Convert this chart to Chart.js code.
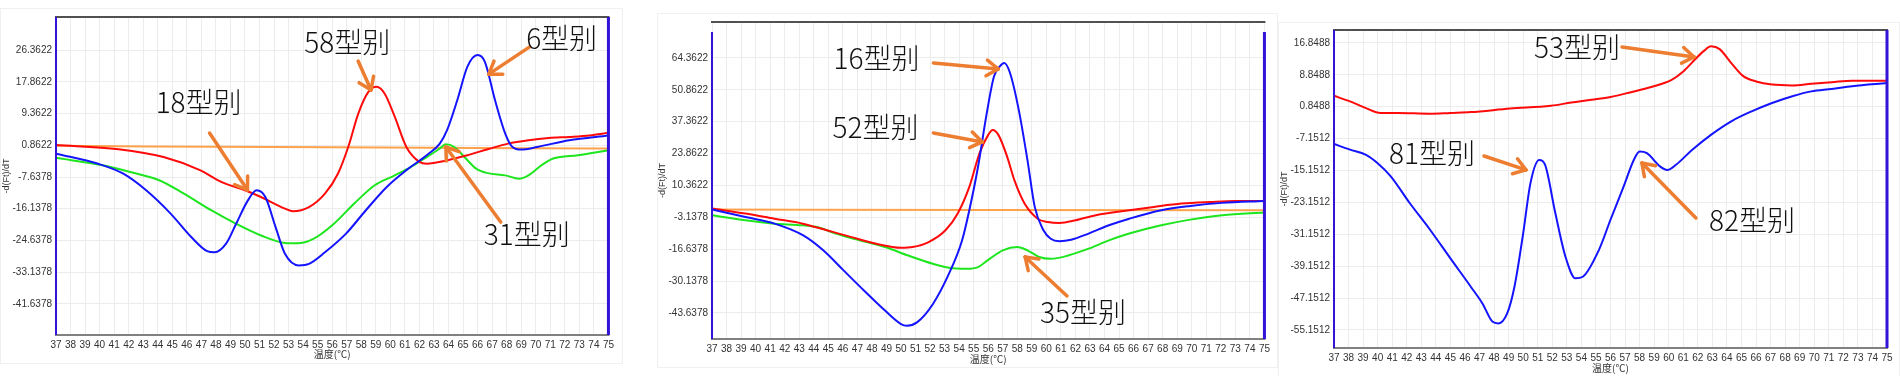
<!DOCTYPE html>
<html>
<head>
<meta charset="utf-8">
<script src="https://cdn.jsdelivr.net/npm/chart.js@4.4.1/dist/chart.umd.min.js"></script>
<style>
  html, body { margin: 0; padding: 0; background: #ffffff; }
  body { width: 1900px; height: 376px; position: relative; overflow: hidden; }
  .frame { position: absolute; border: 1px solid #f0f0f0; box-sizing: border-box; }
  canvas { position: absolute; top: 0; }
</style>
</head>
<body>
<div class="frame" style="left:0px;top:8px;width:623px;height:356px;"></div>
<div class="frame" style="left:657px;top:13px;width:621px;height:355px;"></div>
<div class="frame" style="left:1278px;top:22px;width:622px;height:360px;"></div>
<canvas id="c1" width="618" height="376" style="left:0px;"></canvas>
<canvas id="c2" width="618" height="376" style="left:656px;"></canvas>
<canvas id="c3" width="622" height="376" style="left:1278px;"></canvas>
<script>
// ---------------- shared axis data ----------------
const xTicks = [37,38,39,40,41,42,43,44,45,46,47,48,49,50,51,52,53,54,55,56,57,58,59,60,61,62,63,64,65,66,67,68,69,70,71,72,73,74,75];
const xTitle = '温度(℃)';
const yTitle = '-d(Ft)/dT';

// ---------------- panel 1 ----------------
const yTicks1 = [-41.6378, -33.1378, -24.6378, -16.1378, -7.6378, 0.8622, 9.3622, 17.8622, 26.3622];
const blue1T = [37, 39.9, 41.6, 43.2, 44.9, 46.3, 47.4, 47.9, 48.7, 49.4, 50.2, 50.8, 51.4, 52.1, 52.75, 53.7, 54.4, 55.5, 56.95, 58.3, 59.75, 61.1, 62.5, 63.4, 63.9, 64.6, 65.3, 66, 66.5, 67.2, 67.9, 68.4, 69, 70.1, 72.3, 75];
const blue1V = [-1.4, -4.1, -6.7, -11.2, -17.5, -23.7, -27.5, -27.8, -25.5, -20.1, -13.9, -11.2, -13.0, -21.0, -28.2, -31.3, -30.9, -27.8, -22.8, -16.6, -10.3, -5.8, -1.8, 1.3, 4.9, 12.9, 21.9, 25.0, 23.2, 12.9, 4.0, 0.4, -0.3, 0.4, 2.2, 3.5];
const red1T = [37, 41.3, 44.4, 46.9, 48.4, 50, 51.1, 52.75, 53.3, 54.4, 55.5, 56.4, 57.1, 57.8, 58.5, 59.05, 59.6, 60.3, 61.1, 62, 62.5, 63.9, 65.3, 66.7, 68.1, 69.5, 70.9, 72.3, 73.7, 75];
const red1V = [0.9, -0.2, -2.3, -5.8, -9.0, -11.2, -13.0, -16.1, -16.8, -15.7, -12.1, -6.7, 0.4, 9.4, 15.2, 16.5, 14.7, 8.5, 0.4, -3.6, -4.1, -3.2, -1.8, -0.2, 1.3, 2.2, 2.8, 3.1, 3.5, 4.2];
const green1T = [37, 40.2, 42.1, 44.1, 45.8, 47.7, 49.4, 51.1, 52.75, 53.6, 54.7, 56.1, 57.5, 58.9, 60.3, 61.4, 62.5, 63.4, 63.8, 64.4, 65.1, 65.9, 66.7, 67.9, 68.85, 69.5, 70.4, 71.2, 72.9, 75];
const green1V = [-2.5, -4.5, -6.3, -8.5, -12.1, -16.6, -20.2, -23.3, -25.3, -25.4, -24.2, -20.2, -14.8, -9.9, -7.2, -5.0, -2.3, 0.0, 1.1, 0.4, -2.3, -5.4, -6.6, -7.2, -8.1, -7.2, -4.5, -2.7, -1.8, -0.5];
const orange1T = [37, 56, 75];
const orange1V = [0.7, 0.3, 0.0];
const labels1 = ['58型别', '6型别', '18型别', '31型别'];

// ---------------- panel 2 ----------------
const yTicks2 = [-43.6378, -30.1378, -16.6378, -3.1378, 10.3622, 23.8622, 37.3622, 50.8622, 64.3622];
const blue2T = [37, 39.3, 41.3, 43.25, 44.65, 46.05, 47.45, 48.9, 50, 50.4, 51.1, 52.2, 53.3, 54.2, 54.7, 55.3, 55.9, 56.4, 56.8, 57.1, 57.5, 58.1, 58.7, 59.2, 59.8, 60.3, 60.9, 61.7, 62.9, 64.3, 65.7, 67.9, 69.9, 72.1, 75];
const blue2V = [0.2, -3.0, -5.8, -10.7, -17.1, -25.6, -34.1, -42.6, -48.3, -49.0, -47.6, -39.8, -27.0, -12.9, -0.1, 18.3, 41.0, 56.6, 60.8, 62.2, 58.0, 42.4, 21.1, 1.3, -8.6, -12.2, -13.2, -12.6, -10.0, -6.5, -3.7, -0.1, 1.7, 3.0, 3.8];
const red2T = [37, 39.3, 41.3, 43.25, 44.9, 46.6, 48.3, 50, 50.8, 51.9, 53.06, 53.9, 54.7, 55.4, 56, 56.3, 56.7, 57.3, 57.8, 58.5, 59.4, 60.1, 60.9, 62, 63.4, 65.7, 67.4, 69.3, 71.3, 73, 75];
const red2V = [0.6, -1.5, -3.7, -5.8, -8.6, -11.5, -14.3, -16.0, -15.7, -13.6, -8.6, -1.5, 9.8, 24.0, 31.8, 33.9, 31.8, 22.6, 12.6, 2.7, -3.7, -5.1, -5.5, -4.4, -2.2, -0.1, 1.3, 2.7, 3.4, 3.8, 3.8];
const green2T = [37, 39.3, 41.3, 43.25, 44.4, 45.5, 46.9, 48.9, 50.5, 52.2, 53.3, 54.5, 55.3, 56.1, 57, 58, 58.7, 59.5, 60.3, 61.5, 62.9, 64.3, 65.7, 67.9, 69.9, 72.1, 75];
const green2V = [-2.2, -4.4, -5.8, -6.5, -7.5, -10.0, -12.4, -15.7, -19.3, -22.8, -24.5, -24.9, -24.2, -20.7, -17.1, -15.7, -17.1, -19.9, -20.7, -19.3, -16.4, -12.9, -10.0, -6.5, -4.1, -2.2, -1.1];
const orange2T = [37, 56, 75];
const orange2V = [0.2, 0.0, -0.1];
const labels2 = ['16型别', '52型别', '35型别'];

// ---------------- panel 3 ----------------
const yTicks3 = [-55.1512, -47.1512, -39.1512, -31.1512, -23.1512, -15.1512, -7.1512, 0.8488, 8.8488, 16.8488];
const red3T = [37, 38.1, 39.2, 40.2, 41.4, 43.6, 45, 46.4, 49.1, 51.9, 53.3, 54.7, 56, 57.4, 58.8, 60.2, 61, 61.8, 62.4, 62.9, 63.5, 64.3, 65.1, 66, 67.1, 68.5, 69.8, 71.2, 72.6, 75];
const red3V = [3.6, 2.2, 0.5, -0.7, -0.7, -0.9, -0.7, -0.5, 0.4, 1.1, 1.9, 2.6, 3.3, 4.5, 5.8, 7.6, 9.7, 12.7, 14.8, 16.0, 15.3, 11.8, 8.6, 7.2, 6.4, 6.2, 6.6, 7.0, 7.4, 7.4];
const blue3T = [37, 38.1, 39.2, 40, 40.9, 42.2, 43.6, 45, 46.4, 47.2, 47.9, 48.3, 48.9, 49.4, 50, 50.5, 51.1, 51.5, 52.2, 52.9, 53.6, 54.1, 55.2, 56, 56.9, 57.6, 58, 58.5, 59.4, 59.9, 60.5, 61.6, 62.9, 64.3, 65.7, 67.1, 68.5, 69.8, 71.2, 72.6, 75];
const blue3V = [-8.5, -9.9, -11.2, -13.3, -16.6, -23.3, -30.0, -37.2, -44.3, -48.5, -53.1, -53.5, -51.0, -44.3, -30.9, -18.3, -12.5, -13.7, -25.7, -36.7, -42.2, -41.8, -35.1, -27.5, -19.2, -12.5, -10.4, -10.8, -14.1, -15.0, -13.7, -10.0, -6.2, -2.8, -0.3, 1.8, 3.5, 4.7, 5.3, 6.0, 6.8];
const labels3 = ['53型别', '81型别', '82型别'];

// ---------------- styles ----------------
const COLORS = { red: '#ff0a0a', blue: '#1414ff', green: '#1ee61e', orange: '#ffa24d', arrow: '#ed7d31' };
const TICK_FONT = { family: "'Liberation Sans', Arial, sans-serif", size: 10 };
const XTICK_FONT = { family: "'Liberation Sans Narrow', 'Arial Narrow', 'Liberation Sans', Arial, sans-serif", size: 10 };
const CJK = "'Noto Sans CJK SC', 'Noto Sans CJK JP', sans-serif";

function pts(t, v) { return t.map((x, i) => ({ x: x, y: v[i] })); }
function ds(t, v, color) {
  return { data: pts(t, v), borderColor: color, borderWidth: 2, pointRadius: 0, fill: false,
           cubicInterpolationMode: 'monotone' };
}

const decorPlugin = {
  id: 'decor',
  afterDatasetsDraw(chart, args, opts) {
    const { ctx, chartArea: a, scales } = chart;
    const xs = scales.x, ys = scales.y;
    const line = (x1, y1, x2, y2) => { ctx.beginPath(); ctx.moveTo(x1, y1); ctx.lineTo(x2, y2); ctx.stroke(); };
    ctx.save();
    // frame of the plot area
    ctx.lineWidth = 2; ctx.strokeStyle = '#505050';
    line(a.left - 1, a.top, a.right + 1, a.top);
    ctx.strokeStyle = '#808080';
    line(a.left - 1, a.bottom, a.right + 1, a.bottom);
    ctx.strokeStyle = '#3412d6';
    ctx.lineWidth = 2;
    line(a.left, a.top + (opts.inset || 0), a.left, a.bottom);
    ctx.lineWidth = 3;
    line(a.right, a.top + (opts.inset || 0), a.right, a.bottom);
    // arrows
    ctx.strokeStyle = COLORS.arrow; ctx.lineWidth = 3.5; ctx.lineCap = 'round'; ctx.lineJoin = 'round';
    (opts.arrows || []).forEach(ar => {
      const x1 = xs.getPixelForValue(ar[0]), y1 = ys.getPixelForValue(ar[1]);
      const x2 = xs.getPixelForValue(ar[2]), y2 = ys.getPixelForValue(ar[3]);
      line(x1, y1, x2, y2);
      const ang = Math.atan2(y2 - y1, x2 - x1), L = 14;
      [-1, 1].forEach(s => line(x2, y2, x2 - L * Math.cos(ang + s * 0.6), y2 - L * Math.sin(ang + s * 0.6)));
    });
    // labels
    ctx.fillStyle = '#111111';
    ctx.font = '300 28px ' + CJK;
    ctx.textAlign = 'center'; ctx.textBaseline = 'middle';
    (opts.labels || []).forEach(lb => {
      ctx.fillText(lb.text, xs.getPixelForValue(lb.t), ys.getPixelForValue(lb.v));
    });
    ctx.restore();
  }
};

function makePanel(id, cfg) {
  new Chart(document.getElementById(id), {
    type: 'line',
    data: { datasets: cfg.datasets },
    plugins: [decorPlugin],
    options: {
      responsive: false, animation: false, devicePixelRatio: 1,
      layout: { padding: { top: cfg.padTop, right: cfg.padRight, bottom: 0, left: 0 } },
      plugins: { legend: { display: false }, tooltip: { enabled: false },
                 decor: { inset: cfg.inset, arrows: cfg.arrows, labels: cfg.labels } },
      scales: {
        x: {
          type: 'linear', min: 37, max: 75,
          afterBuildTicks: s => { s.ticks = xTicks.map(v => ({ value: v })); },
          afterFit: s => { s.height = cfg.xH; },
          grid: { color: '#ececec', lineWidth: 1, drawTicks: false },
          border: { display: false },
          ticks: { autoSkip: false, maxRotation: 0, minRotation: 0, padding: 4, color: '#333333', font: XTICK_FONT,
                   callback: v => String(v) },
          title: { display: true, text: xTitle, color: '#333333', font: { family: CJK, size: 10 },
                   padding: { top: 0, bottom: cfg.xTitlePad } }
        },
        y: {
          type: 'linear', min: cfg.yMin, max: cfg.yMax,
          afterBuildTicks: s => { s.ticks = cfg.yTicks.map(v => ({ value: v })); },
          afterFit: s => { s.width = 56; },
          grid: { color: '#ececec', lineWidth: 1, drawTicks: false },
          border: { display: false },
          ticks: { autoSkip: false, padding: 4, color: '#333333', font: TICK_FONT,
                   callback: v => Number(v).toFixed(4) },
          title: { display: true, text: yTitle, color: '#333333', font: { family: "'Liberation Sans', Arial, sans-serif", size: 9 },
                   padding: { top: 1, bottom: 0 } }
        }
      }
    }
  });
}

makePanel('c1', {
  padTop: 17, padRight: 8, xH: 41, xTitlePad: 16, inset: 0,
  yMin: -49.94, yMax: 35.2, yTicks: yTicks1,
  datasets: [ds(blue1T, blue1V, COLORS.blue), ds(red1T, red1V, COLORS.red),
             ds(green1T, green1V, COLORS.green), ds(orange1T, orange1V, COLORS.orange)],
  labels: [{ text: labels1[0], t: 57.03, v: 28.5 }, { text: labels1[1], t: 71.78, v: 29.6 },
           { text: labels1[2], t: 46.81, v: 12.4 }, { text: labels1[3], t: 69.38, v: -22.9 }],
  arrows: [[57.78, 23.4, 58.67, 15.65], [69.58, 27.2, 66.77, 19.9],
           [47.56, 4.14, 50.17, -11.1], [67.59, -19.7, 63.82, 0.39]]
});

makePanel('c2', {
  padTop: 22, padRight: 8, xH: 37, xTitlePad: 11, inset: 10,
  yMin: -54.65, yMax: 79.6, yTicks: yTicks2,
  datasets: [ds(blue2T, blue2V, COLORS.blue), ds(red2T, red2V, COLORS.red),
             ds(green2T, green2V, COLORS.green), ds(orange2T, orange2V, COLORS.orange)],
  labels: [{ text: labels2[0], t: 48.32, v: 64.36 }, { text: labels2[1], t: 48.25, v: 35.1 },
           { text: labels2[2], t: 62.52, v: -43.2 }],
  arrows: [[52.23, 62.24, 56.69, 59.7], [52.23, 32.6, 55.59, 28.8], [61.42, -36.4, 58.54, -19.9]]
});

makePanel('c3', {
  padTop: 30, padRight: 13, xH: 28, xTitlePad: 2, inset: 0,
  yMin: -59.67, yMax: 20.1, yTicks: yTicks3,
  datasets: [ds(blue3T, blue3V, COLORS.blue), ds(red3T, red3V, COLORS.red)],
  labels: [{ text: labels3[0], t: 53.70, v: 15.85 }, { text: labels3[1], t: 43.73, v: -10.75 },
           { text: labels3[2], t: 65.72, v: -27.56 }],
  arrows: [[56.79, 15.85, 61.74, 13.34], [47.31, -11.5, 50.19, -15.0], [61.87, -27.05, 58.16, -13.26]]
});
</script>
</body>
</html>
